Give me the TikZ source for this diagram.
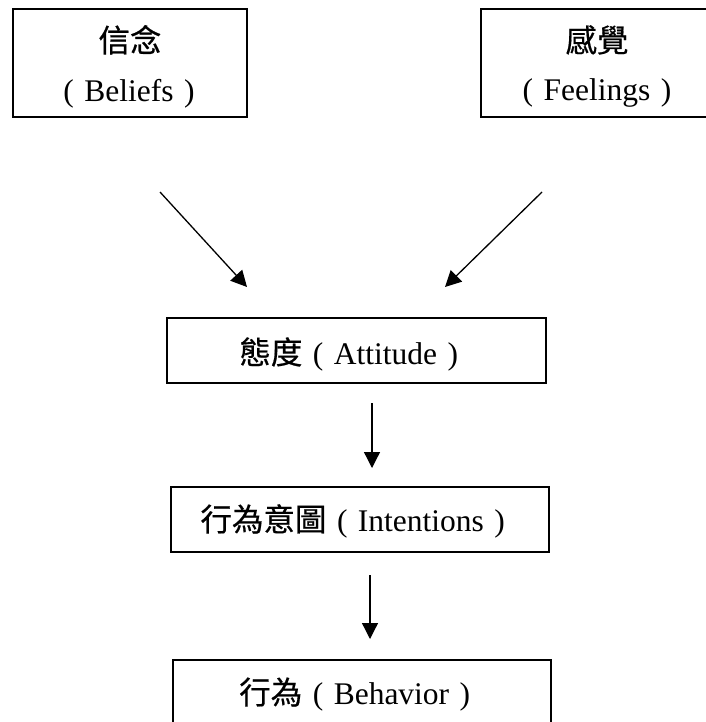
\documentclass[tikz,border=0pt]{standalone}
\usepackage{fontspec}
\setmainfont{Liberation Serif}
\newfontfamily\cjk[FakeBold=0.6]{Noto Sans CJK TC}
\usetikzlibrary{arrows.meta}
\newcommand\flp{\makebox[31.5bp]{(}}
\newcommand\frp{\makebox[31.5bp]{)}}
\begin{document}
\begin{tikzpicture}[x=1bp,y=-1bp,
  box/.style={draw, line width=1.6bp, inner sep=0},
  lbl/.style={anchor=base, inner sep=0, font=\fontsize{31.5bp}{38bp}\selectfont},
  flow/.style={line width=1.3bp, -{Triangle[length=16bp,width=16bp]}}]
\path[use as bounding box, clip] (0,0) rectangle (706,722);
% boxes
\node[box, minimum width=234bp, minimum height=108bp] (bel) at (130,63) {};
\node[box, minimum width=260bp, minimum height=108bp] (fee) at (611,63) {};
\node[box, minimum width=379bp, minimum height=65bp] (att) at (356.5,350.5) {};
\node[box, minimum width=378bp, minimum height=65bp] (int) at (360,519.5) {};
\node[box, minimum width=378bp, minimum height=100bp] (beh) at (362,710) {};
% labels
\node[lbl] (bel1) at (130,52) {\cjk 信念};
\node[lbl] (bel2) at (129,102) {\flp Beliefs\frp};
\node[lbl] (fee1) at (597,52) {\cjk 感覺};
\node[lbl] (fee2) at (597,101) {\flp Feelings\frp};
\node[lbl] (att1) at (354,364) {{\cjk 態度}\flp Attitude\frp};
\node[lbl] (int1) at (358,531) {{\cjk 行為意圖}\flp Intentions\frp};
\node[lbl] (beh1) at (360,704) {{\cjk 行為}\flp Behavior\frp};
% connectors
\coordinate (a1s) at (160,192); \coordinate (a1e) at (247,287);
\coordinate (a2s) at (542,192); \coordinate (a2e) at (445,287);
\coordinate (a3s) at (372,403); \coordinate (a3e) at (372,468);
\coordinate (a4s) at (370,575); \coordinate (a4e) at (370,639);
\draw[flow] (a1s) -- (a1e);
\draw[flow] (a2s) -- (a2e);
\draw[flow] (a3s) -- (a3e);
\draw[flow] (a4s) -- (a4e);
\end{tikzpicture}
\end{document}
